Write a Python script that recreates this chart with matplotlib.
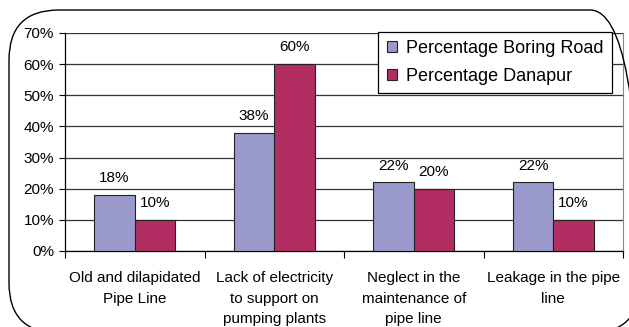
import matplotlib
matplotlib.use("Agg")
import matplotlib.pyplot as plt
from matplotlib.patches import FancyBboxPatch
from matplotlib.transforms import IdentityTransform
from matplotlib.ticker import FixedLocator, NullFormatter
import numpy as np

categories = ["Old and dilapidated\nPipe Line",
              "Lack of electricity\nto support on\npumping plants",
              "Neglect in the\nmaintenance of\npipe line",
              "Leakage in the pipe\nline"]
boring_road = [18, 38, 22, 22]
danapur = [10, 60, 20, 10]
series_names = ["Percentage Boring Road", "Percentage Danapur"]

plt.rcParams['font.family'] = ['Liberation Sans', 'DejaVu Sans']

fig = plt.figure(figsize=(6.29, 3.27), dpi=100)
ax = fig.add_axes([65/629, 1-251/327, (623-65)/629, (251-33)/327])

# rounded outer frame (pixel coords), partly running off the right/bottom edge
frame = FancyBboxPatch((9, -6), 640-9, 317+6,
                       boxstyle="round,pad=0,rounding_size=50",
                       transform=IdentityTransform(), fill=False,
                       edgecolor='black', linewidth=1.0, zorder=0)
fig.patches.append(frame)

x = np.arange(len(categories))
w = 0.29
b1 = ax.bar(x - w/2, boring_road, w, color='#9999CC', edgecolor='#222222',
            linewidth=0.8, label=series_names[0], zorder=3)
b2 = ax.bar(x + w/2, danapur, w, color='#B12D62', edgecolor='#222222',
            linewidth=0.8, label=series_names[1], zorder=3)

for bars, vals in ((b1, boring_road), (b2, danapur)):
    for r, v in zip(bars, vals):
        ax.annotate(f"{v}%", (r.get_x() + r.get_width()/2, v),
                    xytext=(0, 7), textcoords='offset points',
                    ha='center', va='bottom', fontsize=11)

ax.set_xlim(-0.5, len(categories) - 0.5)
ax.set_ylim(0, 70)
ax.set_yticks(range(0, 71, 10))
ax.set_yticklabels([f"{v}%" for v in range(0, 71, 10)], fontsize=11)
ax.yaxis.grid(True, color='#333333', linewidth=0.9, zorder=0)
ax.set_axisbelow(True)

ax.xaxis.set_major_locator(FixedLocator(np.arange(-0.5, len(categories), 1)))
ax.xaxis.set_major_formatter(NullFormatter())
ax.set_xticks(x, minor=True)
ax.set_xticklabels(categories, minor=True, fontsize=11, linespacing=1.6)
ax.tick_params(axis='x', which='minor', length=0, pad=14.5)
ax.tick_params(axis='x', which='major', length=5, direction='out')
ax.tick_params(axis='y', length=4, direction='out', pad=4)

ax.spines['top'].set_visible(False)
ax.spines['right'].set_color('#888888')
ax.spines['right'].set_linewidth(0.8)
ax.spines['left'].set_linewidth(0.9)
ax.spines['bottom'].set_linewidth(0.9)

leg = ax.legend(loc='upper right', bbox_to_anchor=(612/629, 1-32/327),
                bbox_transform=fig.transFigure, borderaxespad=0,
                fontsize=13, fancybox=False, framealpha=1,
                edgecolor='black', handlelength=0.6, handleheight=0.6,
                handletextpad=0.5, labelspacing=0.6, borderpad=0.45)
leg.get_frame().set_linewidth(0.9)
leg.set_zorder(5)

fig.savefig("out.png", dpi=100)
